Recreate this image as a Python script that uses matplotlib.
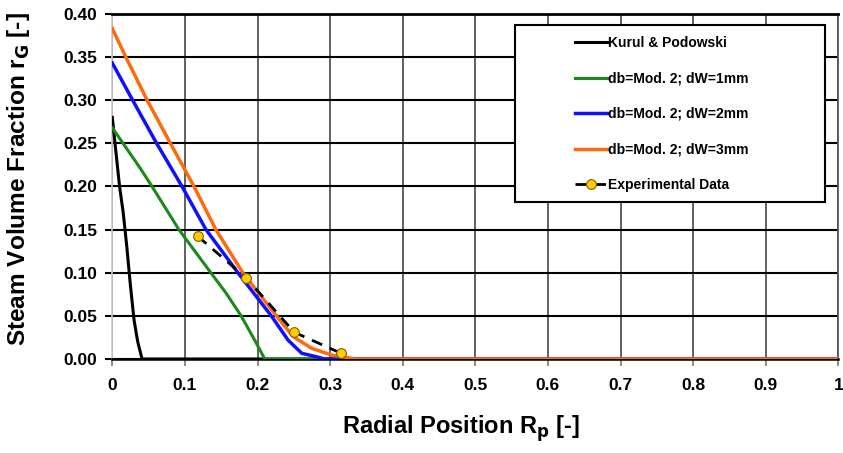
import numpy as np
import matplotlib.pyplot as plt
from matplotlib.patches import Rectangle

plt.rcParams['font.family'] = ['Liberation Sans', 'DejaVu Sans']

# Kurul & Podowski
kp_x = [0.0, 0.005, 0.01, 0.015, 0.02, 0.025, 0.03, 0.035, 0.041, 0.2, 1.0]
kp_y = [0.28, 0.24, 0.20, 0.17, 0.13, 0.085, 0.045, 0.02, 0.0, 0.0, 0.0]

# db=Mod. 2; dW=1mm
g_x = [0.0, 0.0385, 0.0547, 0.0917, 0.1357, 0.157, 0.1774, 0.196, 0.21, 0.3, 1.0]
g_y = [0.268, 0.221, 0.20, 0.15, 0.10, 0.076, 0.05, 0.022, 0.0, 0.0, 0.0]

# db=Mod. 2; dW=2mm
b_x = [0.0, 0.028, 0.061, 0.096, 0.129, 0.173, 0.219, 0.242, 0.261, 0.284, 0.292, 0.4, 1.0]
b_y = [0.343, 0.30, 0.25, 0.20, 0.15, 0.10, 0.05, 0.022, 0.0066, 0.002, 0.0, 0.0, 0.0]

# db=Mod. 2; dW=3mm
o_x = [0.0, 0.0186, 0.048, 0.080, 0.1125, 0.1426, 0.1797, 0.226, 0.249, 0.2746, 0.302, 0.321, 0.335, 1.0]
o_y = [0.383, 0.35, 0.30, 0.25, 0.20, 0.15, 0.10, 0.05, 0.026, 0.0124, 0.0046, 0.002, 0.0, 0.0]

# Experimental data
ex_x = [0.118, 0.184, 0.2506, 0.3153]
ex_y = [0.142, 0.0943, 0.031, 0.0066]

xticks = [0, 0.1, 0.2, 0.3, 0.4, 0.5, 0.6, 0.7, 0.8, 0.9, 1]
xlabels = ['0', '0.1', '0.2', '0.3', '0.4', '0.5', '0.6', '0.7', '0.8', '0.9', '1']
yticks = [0.0, 0.05, 0.10, 0.15, 0.20, 0.25, 0.30, 0.35, 0.40]

fig = plt.figure(figsize=(8.43, 4.53), dpi=100)
ax = fig.add_axes([0.1332, 0.2075, 0.8613, 0.762])

ax.plot(kp_x, kp_y, color='black', lw=2.2, label='Kurul & Podowski', zorder=4)
ax.plot(g_x, g_y, color='#1a8a1a', lw=2.2, label='db=Mod. 2; dW=1mm', zorder=4)
ax.plot(b_x, b_y, color='#1010ff', lw=2.5, label='db=Mod. 2; dW=2mm', zorder=4)
ax.plot(o_x, o_y, color='#ff6a10', lw=2.5, label='db=Mod. 2; dW=3mm', zorder=5)
ax.plot(ex_x, ex_y, color='black', lw=2, ls=(0, (4, 3)), marker='o', ms=7,
        mfc='#ffcc00', mec='#806000', mew=0.8, label='Experimental Data', zorder=6)

ax.set_xlim(0, 1)
ax.set_ylim(0, 0.4)
ax.set_xticks(xticks)
ax.set_xticklabels(xlabels)
ax.set_yticks(yticks)
ax.set_yticklabels(['%.2f' % v for v in yticks])

ax.yaxis.grid(True, color='black', lw=1.5)
ax.xaxis.grid(True, color='#555555', lw=1.3)
ax.set_axisbelow(True)

ax.spines['top'].set_color('black')
ax.spines['top'].set_linewidth(2)
ax.spines['bottom'].set_color('black')
ax.spines['bottom'].set_linewidth(1.8)
ax.spines['left'].set_color('#cccccc')
ax.spines['left'].set_linewidth(1.2)
ax.spines['right'].set_color('#555555')
ax.spines['right'].set_linewidth(1.3)

ax.tick_params(axis='y', length=5, width=1.5, color='black', pad=6)
ax.tick_params(axis='x', length=5, width=1.2, color='#777777', pad=9)
for lbl in ax.get_xticklabels() + ax.get_yticklabels():
    lbl.set_fontsize(12.5)
    lbl.set_fontweight('bold')

ax.set_xlabel('Radial Position R$_\\mathbf{p}$ [-]', fontsize=17, fontweight='bold')
ax.set_ylabel('Steam Volume Fraction r$_\\mathbf{G}$ [-]', fontsize=17.6, fontweight='bold')
ax.xaxis.set_label_coords(0.480, -0.157)
ax.yaxis.set_label_coords(-0.110, 0.52)

# legend box
box = Rectangle((0.5547, 0.455), 0.427, 0.513, transform=ax.transAxes,
                facecolor='white', edgecolor='black', lw=1.5, zorder=7)
ax.add_patch(box)

leg = ax.legend(loc='center left', bbox_to_anchor=(0.637, 0.71), fontsize=10,
                frameon=False, handlelength=2.3, handletextpad=0.1,
                labelspacing=1.55, borderpad=0, borderaxespad=0)
leg.set_zorder(8)
for t in leg.get_texts():
    t.set_fontweight('bold')

fig.savefig('out.png', dpi=100)
